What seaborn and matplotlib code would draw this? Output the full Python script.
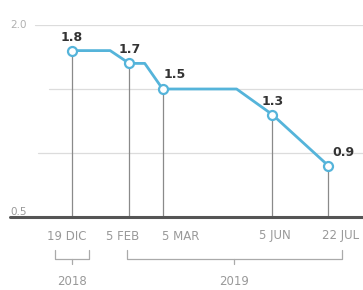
import pandas as pd
import numpy as np
import matplotlib
matplotlib.use('Agg')
import matplotlib.pyplot as plt
import matplotlib.dates as mdates
import seaborn as sns

# forecast points (date, value) and the corner points of the line
forecastDates = ['2018-12-19', '2019-02-05', '2019-03-05', '2019-06-05', '2019-07-22']
forecastValues = [1.8, 1.7, 1.5, 1.3, 0.9]
forecastLabels = ['1.8', '1.7', '1.5', '1.3', '0.9']
tickLabels = ['19 DIC', '5 FEB', '5 MAR', '5 JUN', '22 JUL']
lineDates = ['2018-12-19', '2019-01-20', '2019-02-05', '2019-02-18', '2019-03-05',
             '2019-05-06', '2019-06-05', '2019-07-22']
lineValues = [1.8, 1.8, 1.7, 1.7, 1.5, 1.5, 1.3, 0.9]
gridValues = [2.0, 1.5, 1.0]
yearGroups = [('2018', '2018-12-05', '2019-01-02'), ('2019', '2019-02-03', '2019-08-02')]

sns.set_style('white')
plt.rcParams['font.family'] = ['DejaVu Sans']

lineDf = pd.DataFrame({'date': pd.to_datetime(lineDates), 'value': lineValues})
pointDf = pd.DataFrame({'date': pd.to_datetime(forecastDates), 'value': forecastValues})

fig = plt.figure(figsize=(3.63, 2.90), dpi=100)
ax = fig.add_axes([10 / 363, (290 - 217) / 290, 353 / 363, 192 / 290])

blue = '#55b4da'
ax.set_xlim(pd.Timestamp('2018-10-28'), pd.Timestamp('2019-08-20'))
ax.set_ylim(0.5, 2.0)
for s in ax.spines.values():
    s.set_visible(False)
ax.set_xticks([])
ax.set_yticks([])

# gridlines
for g, x0 in zip(gridValues, [0.07, 0.11, 0.08]):
    ax.axhline(g, xmin=x0, xmax=1, color='#dcdcdc', lw=0.9, zorder=0)
ax.axhline(0.5, color='#555555', lw=2.2, zorder=3, clip_on=False)

# vertical drop lines
for d, v in zip(pointDf['date'], pointDf['value']):
    ax.plot([d, d], [0.5, v], color='#8a8a8a', lw=0.9, zorder=1)

sns.lineplot(data=lineDf, x='date', y='value', ax=ax, color=blue, lw=2.0, zorder=2)
sns.scatterplot(data=pointDf, x='date', y='value', ax=ax, s=42, facecolor='white',
                edgecolor=blue, linewidth=1.6, zorder=4)
ax.set_xlabel('')
ax.set_ylabel('')

# value labels
offsets = [(0, 5, 'center'), (0, 5, 'center'), (1, 6, 'left'), (0, 5, 'center'), (3, 5, 'left')]
for d, v, lab, (dx, dy, ha) in zip(pointDf['date'], pointDf['value'], forecastLabels, offsets):
    ax.annotate(lab, (mdates.date2num(d), v), xytext=(dx, dy), textcoords='offset points',
                ha=ha, va='bottom', fontsize=9, fontweight='bold', color='#333333')

# y labels
ax.text(0.0, 2.0, '2.0', transform=ax.get_yaxis_transform(), ha='left', va='center',
        fontsize=7.5, color='#b0b0b0')
ax.text(0.0, 0.5, '0.5', transform=ax.get_yaxis_transform(), ha='left', va='bottom',
        fontsize=7.5, color='#999999')

# x labels, nudged sideways so they do not collide
labelShift = [-4, -5, 13, 2, 9]
for d, lab, sh in zip(pointDf['date'], tickLabels, labelShift):
    ax.annotate(lab, (mdates.date2num(d), 0), xycoords=ax.get_xaxis_transform(),
                xytext=(sh, -9), textcoords='offset points', ha='center', va='top',
                fontsize=8.5, color='#999999', annotation_clip=False)

# year brackets
for year, start, end in yearGroups:
    s, e = pd.Timestamp(start), pd.Timestamp(end)
    mid = s + (e - s) / 2
    tr = ax.get_xaxis_transform()
    ax.plot([s, s, e, e], [-0.17, -0.22, -0.22, -0.17], transform=tr, color='#aaaaaa',
            lw=0.9, clip_on=False)
    ax.plot([mid, mid], [-0.22, -0.245], transform=tr, color='#aaaaaa', lw=0.9, clip_on=False)
    ax.text(mid, -0.30, year, transform=tr, ha='center', va='top', fontsize=8.5, color='#999999')

fig.savefig('out.png', dpi=100)
